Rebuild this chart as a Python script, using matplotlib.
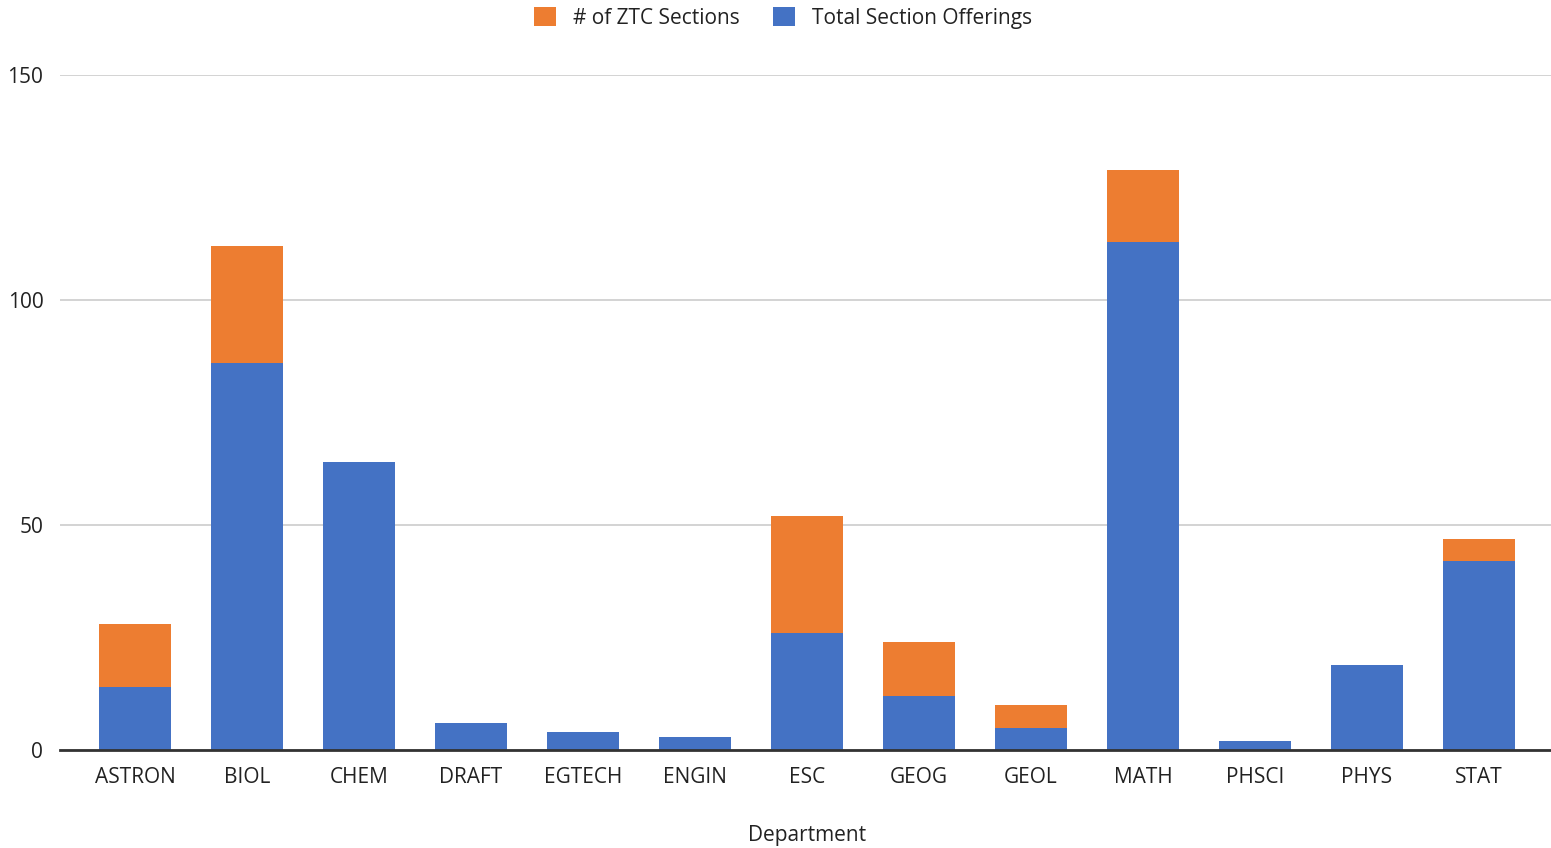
import numpy as np
import matplotlib.pyplot as plt

plt.rcParams['font.family'] = ['Open Sans', 'DejaVu Sans']

departments = ['ASTRON', 'BIOL', 'CHEM', 'DRAFT', 'EGTECH', 'ENGIN', 'ESC',
               'GEOG', 'GEOL', 'MATH', 'PHSCI', 'PHYS', 'STAT']
total_offerings = [14, 86, 64, 6, 4, 3, 26, 12, 5, 113, 2, 19, 42]
ztc_sections = [14, 26, 0, 0, 0, 0, 26, 12, 5, 16, 0, 0, 5]

blue = '#4472C4'
orange = '#ED7D31'
text_color = '#222222'

fig = plt.figure(figsize=(15.51, 8.48), dpi=100)
ax = fig.add_axes([60 / 1551, 98 / 848, 1491 / 1551, 675 / 848])

x = np.arange(len(departments))
ax.bar(x, total_offerings, width=0.64, color=blue, zorder=3,
       label='Total Section Offerings')
ax.bar(x, ztc_sections, width=0.64, bottom=total_offerings, color=orange,
       zorder=3, label='# of ZTC Sections')

ax.set_xlim(-0.67, len(departments) - 1 + 0.643)
ax.set_ylim(0, 150)
ax.set_yticks([0, 50, 100, 150])
ax.set_xticks(x)
ax.set_xticklabels(departments)
ax.tick_params(axis='both', length=0, labelsize=15, colors=text_color)
ax.tick_params(axis='x', pad=12)
ax.tick_params(axis='y', pad=12)
ax.yaxis.grid(True, color='#cccccc', linewidth=1.2, zorder=0)

for side in ['top', 'right', 'left']:
    ax.spines[side].set_visible(False)
ax.spines['bottom'].set_color('#333333')
ax.spines['bottom'].set_linewidth(2)
ax.spines['bottom'].set_zorder(4)

fig.text(807 / 1551, 1 - 835 / 848, 'Department', fontsize=15,
         color=text_color, ha='center', va='center')

handles, labels = ax.get_legend_handles_labels()
fig.legend(handles[::-1], labels[::-1], loc='center',
           bbox_to_anchor=(783 / 1551, 1 - 18 / 848), ncol=2, frameon=False,
           fontsize=15, handlelength=1.05, handleheight=1.05,
           handletextpad=0.8, columnspacing=1.6, labelcolor=text_color)

fig.savefig('out.png', dpi=100)
